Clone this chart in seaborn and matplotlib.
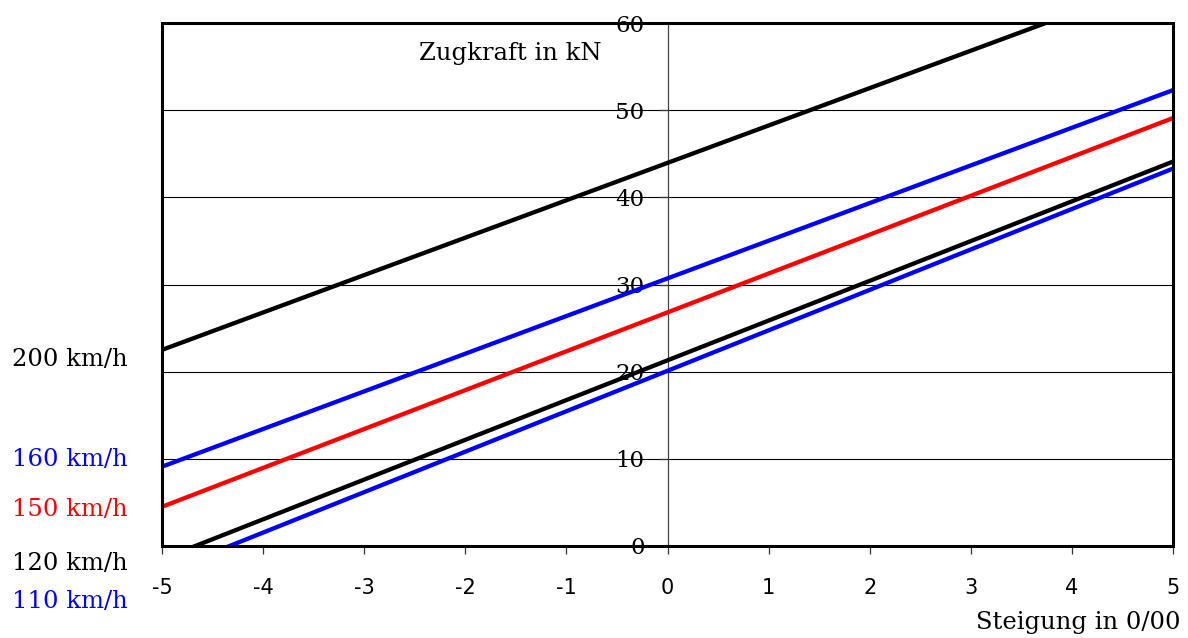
import matplotlib
matplotlib.use("Agg")
import matplotlib.pyplot as plt
import seaborn as sns
import pandas as pd
from matplotlib.patches import Rectangle

# data
speeds = ["200 km/h", "160 km/h", "150 km/h", "120 km/h", "110 km/h"]
colors = ["black", "blue", "red", "black", "blue"]
x_ends = [-5, 5]
y_200 = [22.5, 65.4]
y_160 = [9.1, 52.3]
y_150 = [4.5, 49.1]
y_120 = [-1.5, 44.1]
y_110 = [-3.1, 43.3]
x_ticks = [-5, -4, -3, -2, -1, 0, 1, 2, 3, 4, 5]
y_ticks = [0, 10, 20, 30, 40, 50, 60]

rows = []
for name, ys in zip(speeds, [y_200, y_160, y_150, y_120, y_110]):
    for x, y in zip(x_ends, ys):
        rows.append({"Steigung": x, "Zugkraft": y, "speed": name})
df = pd.DataFrame(rows)

sns.set_style("white")
plt.rcParams["font.family"] = ["DejaVu Serif"]
plt.rcParams["text.color"] = "black"
plt.rcParams["xtick.color"] = "black"
plt.rcParams["ytick.color"] = "black"
plt.rcParams["axes.labelcolor"] = "black"

fig = plt.figure(figsize=(11.88, 6.38), dpi=100)
ax = fig.add_axes([162 / 1188, 1 - 546 / 638, (1173 - 162) / 1188, (546 - 23) / 638])

sns.lineplot(data=df, x="Steigung", y="Zugkraft", hue="speed", hue_order=speeds,
             palette=dict(zip(speeds, colors)), linewidth=3.1, legend=False, ax=ax,
             solid_capstyle="butt")

ax.set_xlim(-5, 5)
ax.set_ylim(0, 60)
ax.set_xlabel("")
ax.set_ylabel("")

# horizontal gridlines
for v in y_ticks[1:-1]:
    ax.axhline(v, color="black", lw=0.8, zorder=0)

# y-axis at x=0
ax.spines["left"].set_position(("data", 0))
ax.spines["left"].set_color("#444444")
ax.spines["left"].set_linewidth(0.9)
ax.spines["left"].set_zorder(0)
for s in ["top", "right", "bottom"]:
    ax.spines[s].set_visible(False)
ax.add_patch(Rectangle((0, 0), 1, 1, transform=ax.transAxes, fill=False,
                       edgecolor="black", lw=2.2, clip_on=False, zorder=5))

ax.set_yticks(y_ticks)
ax.set_yticklabels([str(v) for v in y_ticks], fontsize=16.5, color="black")
ax.tick_params(axis="y", direction="out", length=6.5, width=0.9, pad=10,
               color="#333333", left=True, labelcolor="black")
for lab in ax.get_yticklabels():
    lab.set_fontfamily("DejaVu Serif")

ax.set_xticks(x_ticks)
ax.set_xticklabels([str(v) for v in x_ticks], fontsize=15, fontfamily="DejaVu Sans",
                   color="black")
ax.tick_params(axis="x", direction="out", length=6, width=0.9, pad=17,
               color="#333333", bottom=True, labelcolor="black")

# labels
ax.text(-1.55, 56.5, "Zugkraft in kN", fontsize=17.5, ha="center", va="center",
        color="black")
fig.text(1180 / 1188, 1 - 623 / 638, "Steigung in 0/00", fontsize=17.5,
         ha="right", va="center", color="black")

label_y = [360, 459, 510, 563, 601]
for name, c, py in zip(speeds, colors, label_y):
    fig.text(12 / 1188, 1 - py / 638, name, color=c, fontsize=17.5,
             ha="left", va="center")

fig.savefig("out.png", dpi=100)
